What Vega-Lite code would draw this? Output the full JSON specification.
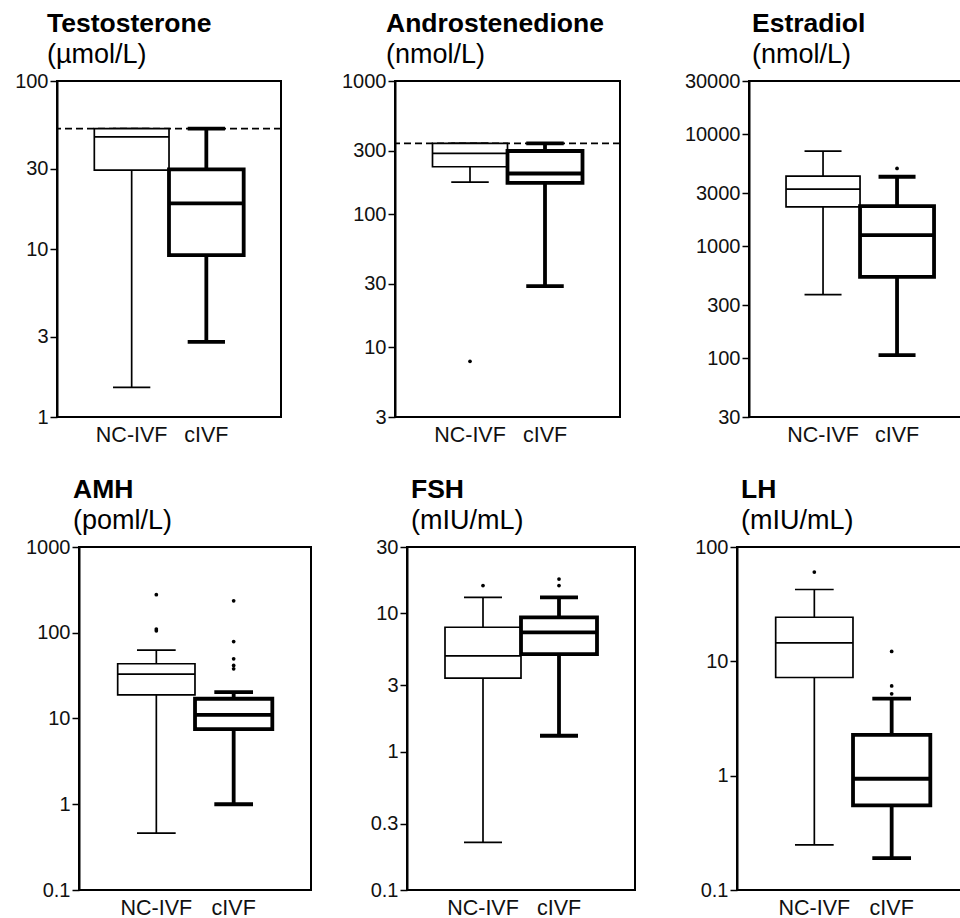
{
  "$schema": "https://vega.github.io/schema/vega-lite/v6.json",
  "padding": {"left": 0, "top": 9, "right": 0, "bottom": 0},
  "background": "white",
  "config": {
    "font": "Liberation Sans",
    "view": {"stroke": "black", "strokeWidth": 2},
    "axis": {"grid": false, "labelFont": "Liberation Sans", "labelColor": "#111", "domainColor": "black", "tickColor": "black", "labelOverlap": false},
    "axisY": {"labelFontSize": 20, "tickSize": 7, "tickWidth": 1.5, "domainWidth": 2, "labelPadding": 2},
    "axisX": {"labelFontSize": 21.5, "ticks": false, "domain": false, "labelAngle": 0, "labelPadding": 7},
    "title": {"anchor": "start", "frame": "group", "font": "Liberation Sans", "fontSize": 26.5, "fontWeight": "bold", "color": "black", "subtitleFont": "Liberation Sans", "subtitleFontSize": 27, "subtitleColor": "black", "subtitlePadding": 5, "offset": 3}
  },
  "datasets": {
    "box": [
      {"h": "Testosterone", "g": "NC-IVF", "lo": 1.5, "q1": 29.5, "med": 46.5, "q3": 52, "hi": 52},
      {"h": "Testosterone", "g": "cIVF", "lo": 2.8, "q1": 9.2, "med": 18.7, "q3": 29.8, "hi": 52},
      {"h": "Androstenedione", "g": "NC-IVF", "lo": 174, "q1": 227, "med": 286, "q3": 340, "hi": 340},
      {"h": "Androstenedione", "g": "cIVF", "lo": 28.8, "q1": 172, "med": 202, "q3": 298, "hi": 340},
      {"h": "Estradiol", "g": "NC-IVF", "lo": 372, "q1": 2260, "med": 3250, "q3": 4250, "hi": 7100},
      {"h": "Estradiol", "g": "cIVF", "lo": 107, "q1": 535, "med": 1260, "q3": 2290, "hi": 4190},
      {"h": "AMH", "g": "NC-IVF", "lo": 0.46, "q1": 18.9, "med": 32.9, "q3": 43.5, "hi": 62.8},
      {"h": "AMH", "g": "cIVF", "lo": 1.0, "q1": 7.5, "med": 11.0, "q3": 17.0, "hi": 20.3},
      {"h": "FSH", "g": "NC-IVF", "lo": 0.221, "q1": 3.39, "med": 4.9, "q3": 7.9, "hi": 13.0},
      {"h": "FSH", "g": "cIVF", "lo": 1.3, "q1": 5.06, "med": 7.25, "q3": 9.3, "hi": 13.0},
      {"h": "LH", "g": "NC-IVF", "lo": 0.248, "q1": 7.22, "med": 14.5, "q3": 24.3, "hi": 42.5},
      {"h": "LH", "g": "cIVF", "lo": 0.19, "q1": 0.55, "med": 0.94, "q3": 2.27, "hi": 4.72}
    ],
    "out": [
      {"h": "Androstenedione", "g": "NC-IVF", "v": 7.85, "k": 0},
      {"h": "Estradiol", "g": "cIVF", "v": 4970, "k": 0},
      {"h": "AMH", "g": "NC-IVF", "v": 278, "k": 0},
      {"h": "AMH", "g": "NC-IVF", "v": 105.5, "k": 0},
      {"h": "AMH", "g": "NC-IVF", "v": 110.4, "k": 1},
      {"h": "AMH", "g": "cIVF", "v": 236, "k": 0},
      {"h": "AMH", "g": "cIVF", "v": 79, "k": 0},
      {"h": "AMH", "g": "cIVF", "v": 49.7, "k": 0},
      {"h": "AMH", "g": "cIVF", "v": 38, "k": 0},
      {"h": "AMH", "g": "cIVF", "v": 41.6, "k": 1},
      {"h": "FSH", "g": "NC-IVF", "v": 15.8, "k": 0},
      {"h": "FSH", "g": "cIVF", "v": 15.8, "k": 0},
      {"h": "FSH", "g": "cIVF", "v": 17.6, "k": 1},
      {"h": "LH", "g": "NC-IVF", "v": 60.3, "k": 0},
      {"h": "LH", "g": "cIVF", "v": 12.2, "k": 0},
      {"h": "LH", "g": "cIVF", "v": 6.1, "k": 0},
      {"h": "LH", "g": "cIVF", "v": 5.2, "k": 0}
    ],
    "ref": [
      {"h": "Testosterone", "v": 52},
      {"h": "Androstenedione", "v": 340}
    ]
  },
  "spacing": 28,
  "center": true,
  "vconcat": [
    {
      "spacing": 40,
      "hconcat": [
        {
          "width": 224, "height": 336,
          "title": {"text": "Testosterone", "subtitle": "(µmol/L)", "dx": -10},
          "layer": [
            {"data": {"name": "ref"}, "transform": [{"filter": "datum.h === 'Testosterone'"}],
             "mark": {"type": "rule", "strokeDash": [7, 4], "strokeWidth": 1.8, "color": "black"},
             "encoding": {"y": {"field": "v", "type": "quantitative", "scale": {"type": "log", "domain": [1, 100], "nice": false}, "axis": {"title": null, "values": [1, 3, 10, 30, 100], "format": "~g", "minExtent": 56}}}},
            {"data": {"name": "box"}, "transform": [{"filter": "datum.h === 'Testosterone'"}],
             "mark": {"type": "rule", "color": "black"},
             "encoding": {"x": {"field": "g", "type": "nominal", "scale": {"domain": ["NC-IVF", "cIVF"], "paddingInner": 0, "paddingOuter": 0.5}, "axis": {"title": null}},
               "y": {"field": "lo", "type": "quantitative", "scale": {"type": "log", "domain": [1, 100], "nice": false}, "axis": {"title": null}}, "y2": {"field": "hi"},
               "strokeWidth": {"field": "g", "type": "nominal", "scale": {"domain": ["NC-IVF", "cIVF"], "range": [1.7, 3.8]}, "legend": null}}},
            {"data": {"name": "box"}, "transform": [{"filter": "datum.h === 'Testosterone'"}],
             "mark": {"type": "bar", "width": 37.3, "fill": "black", "stroke": "black"},
             "encoding": {"x": {"field": "g", "type": "nominal"}, "y": {"field": "lo", "type": "quantitative", "axis": {"title": null}}, "y2": {"field": "lo"}, "strokeWidth": {"field": "g", "type": "nominal", "legend": null}}},
            {"data": {"name": "box"}, "transform": [{"filter": "datum.h === 'Testosterone'"}],
             "mark": {"type": "bar", "width": 37.3, "fill": "black", "stroke": "black"},
             "encoding": {"x": {"field": "g", "type": "nominal"}, "y": {"field": "hi", "type": "quantitative", "axis": {"title": null}}, "y2": {"field": "hi"}, "strokeWidth": {"field": "g", "type": "nominal", "legend": null}}},
            {"data": {"name": "box"}, "transform": [{"filter": "datum.h === 'Testosterone'"}],
             "mark": {"type": "bar", "width": 74.7, "fill": "white", "stroke": "black"},
             "encoding": {"x": {"field": "g", "type": "nominal"}, "y": {"field": "q1", "type": "quantitative", "axis": {"title": null}}, "y2": {"field": "q3"}, "strokeWidth": {"field": "g", "type": "nominal", "legend": null}}},
            {"data": {"name": "box"}, "transform": [{"filter": "datum.h === 'Testosterone'"}],
             "mark": {"type": "bar", "width": 74.7, "fill": "black", "stroke": "black"},
             "encoding": {"x": {"field": "g", "type": "nominal"}, "y": {"field": "med", "type": "quantitative", "axis": {"title": null}}, "y2": {"field": "med"}, "strokeWidth": {"field": "g", "type": "nominal", "legend": null}}}
          ]
        },
        {
          "width": 225, "height": 336,
          "title": {"text": "Androstenedione", "subtitle": "(nmol/L)", "dx": -9},
          "layer": [
            {"data": {"name": "ref"}, "transform": [{"filter": "datum.h === 'Androstenedione'"}],
             "mark": {"type": "rule", "strokeDash": [7, 4], "strokeWidth": 1.8, "color": "black"},
             "encoding": {"y": {"field": "v", "type": "quantitative", "scale": {"type": "log", "domain": [3, 1000], "nice": false}, "axis": {"title": null, "values": [3, 10, 30, 100, 300, 1000], "format": "~g", "minExtent": 71}}}},
            {"data": {"name": "box"}, "transform": [{"filter": "datum.h === 'Androstenedione'"}],
             "mark": {"type": "rule", "color": "black"},
             "encoding": {"x": {"field": "g", "type": "nominal", "scale": {"domain": ["NC-IVF", "cIVF"], "paddingInner": 0, "paddingOuter": 0.5}, "axis": {"title": null}},
               "y": {"field": "lo", "type": "quantitative", "scale": {"type": "log", "domain": [3, 1000], "nice": false}, "axis": {"title": null}}, "y2": {"field": "hi"},
               "strokeWidth": {"field": "g", "type": "nominal", "scale": {"domain": ["NC-IVF", "cIVF"], "range": [1.7, 3.8]}, "legend": null}}},
            {"data": {"name": "box"}, "transform": [{"filter": "datum.h === 'Androstenedione'"}],
             "mark": {"type": "bar", "width": 37.5, "fill": "black", "stroke": "black"},
             "encoding": {"x": {"field": "g", "type": "nominal"}, "y": {"field": "lo", "type": "quantitative", "axis": {"title": null}}, "y2": {"field": "lo"}, "strokeWidth": {"field": "g", "type": "nominal", "legend": null}}},
            {"data": {"name": "box"}, "transform": [{"filter": "datum.h === 'Androstenedione'"}],
             "mark": {"type": "bar", "width": 37.5, "fill": "black", "stroke": "black"},
             "encoding": {"x": {"field": "g", "type": "nominal"}, "y": {"field": "hi", "type": "quantitative", "axis": {"title": null}}, "y2": {"field": "hi"}, "strokeWidth": {"field": "g", "type": "nominal", "legend": null}}},
            {"data": {"name": "box"}, "transform": [{"filter": "datum.h === 'Androstenedione'"}],
             "mark": {"type": "bar", "width": 75, "fill": "white", "stroke": "black"},
             "encoding": {"x": {"field": "g", "type": "nominal"}, "y": {"field": "q1", "type": "quantitative", "axis": {"title": null}}, "y2": {"field": "q3"}, "strokeWidth": {"field": "g", "type": "nominal", "legend": null}}},
            {"data": {"name": "box"}, "transform": [{"filter": "datum.h === 'Androstenedione'"}],
             "mark": {"type": "bar", "width": 75, "fill": "black", "stroke": "black"},
             "encoding": {"x": {"field": "g", "type": "nominal"}, "y": {"field": "med", "type": "quantitative", "axis": {"title": null}}, "y2": {"field": "med"}, "strokeWidth": {"field": "g", "type": "nominal", "legend": null}}},
            {"data": {"name": "out"}, "transform": [{"filter": "datum.h === 'Androstenedione'"}],
             "mark": {"type": "point", "filled": true, "color": "black", "opacity": 1, "size": 14},
             "encoding": {"x": {"field": "g", "type": "nominal"}, "y": {"field": "v", "type": "quantitative", "axis": {"title": null}}}}
          ]
        },
        {
          "width": 242, "height": 336,
          "title": {"text": "Estradiol", "subtitle": "(nmol/L)", "dx": 3},
          "layer": [
            {"data": {"name": "box"}, "transform": [{"filter": "datum.h === 'Estradiol'"}],
             "mark": {"type": "rule", "color": "black"},
             "encoding": {"x": {"field": "g", "type": "nominal", "scale": {"domain": ["NC-IVF", "cIVF"], "paddingInner": 0, "paddingOuter": 0.635, "align": 0.394}, "axis": {"title": null}},
               "y": {"field": "lo", "type": "quantitative", "scale": {"type": "log", "domain": [30, 30000], "nice": false}, "axis": {"title": null, "values": [30, 100, 300, 1000, 3000, 10000, 30000], "format": "~g", "minExtent": 86}}, "y2": {"field": "hi"},
               "strokeWidth": {"field": "g", "type": "nominal", "scale": {"domain": ["NC-IVF", "cIVF"], "range": [1.7, 3.8]}, "legend": null}}},
            {"data": {"name": "box"}, "transform": [{"filter": "datum.h === 'Estradiol'"}],
             "mark": {"type": "bar", "width": 37, "fill": "black", "stroke": "black"},
             "encoding": {"x": {"field": "g", "type": "nominal"}, "y": {"field": "lo", "type": "quantitative", "axis": {"title": null}}, "y2": {"field": "lo"}, "strokeWidth": {"field": "g", "type": "nominal", "legend": null}}},
            {"data": {"name": "box"}, "transform": [{"filter": "datum.h === 'Estradiol'"}],
             "mark": {"type": "bar", "width": 37, "fill": "black", "stroke": "black"},
             "encoding": {"x": {"field": "g", "type": "nominal"}, "y": {"field": "hi", "type": "quantitative", "axis": {"title": null}}, "y2": {"field": "hi"}, "strokeWidth": {"field": "g", "type": "nominal", "legend": null}}},
            {"data": {"name": "box"}, "transform": [{"filter": "datum.h === 'Estradiol'"}],
             "mark": {"type": "bar", "width": 74, "fill": "white", "stroke": "black"},
             "encoding": {"x": {"field": "g", "type": "nominal"}, "y": {"field": "q1", "type": "quantitative", "axis": {"title": null}}, "y2": {"field": "q3"}, "strokeWidth": {"field": "g", "type": "nominal", "legend": null}}},
            {"data": {"name": "box"}, "transform": [{"filter": "datum.h === 'Estradiol'"}],
             "mark": {"type": "bar", "width": 74, "fill": "black", "stroke": "black"},
             "encoding": {"x": {"field": "g", "type": "nominal"}, "y": {"field": "med", "type": "quantitative", "axis": {"title": null}}, "y2": {"field": "med"}, "strokeWidth": {"field": "g", "type": "nominal", "legend": null}}},
            {"data": {"name": "out"}, "transform": [{"filter": "datum.h === 'Estradiol'"}],
             "mark": {"type": "point", "filled": true, "color": "black", "opacity": 1, "size": 14},
             "encoding": {"x": {"field": "g", "type": "nominal"}, "y": {"field": "v", "type": "quantitative", "axis": {"title": null}}}}
          ]
        }
      ]
    },
    {
      "spacing": 40,
      "hconcat": [
        {
          "width": 232, "height": 343,
          "title": {"text": "AMH", "subtitle": "(poml/L)", "dx": -6},
          "layer": [
            {"data": {"name": "box"}, "transform": [{"filter": "datum.h === 'AMH'"}],
             "mark": {"type": "rule", "color": "black"},
             "encoding": {"x": {"field": "g", "type": "nominal", "scale": {"domain": ["NC-IVF", "cIVF"], "paddingInner": 0, "paddingOuter": 0.5}, "axis": {"title": null}},
               "y": {"field": "lo", "type": "quantitative", "scale": {"type": "log", "domain": [0.1, 1000], "nice": false}, "axis": {"title": null, "values": [0.1, 1, 10, 100, 1000], "format": "~g", "minExtent": 78}}, "y2": {"field": "hi"},
               "strokeWidth": {"field": "g", "type": "nominal", "scale": {"domain": ["NC-IVF", "cIVF"], "range": [1.7, 3.8]}, "legend": null}}},
            {"data": {"name": "box"}, "transform": [{"filter": "datum.h === 'AMH'"}],
             "mark": {"type": "bar", "width": 38.7, "fill": "black", "stroke": "black"},
             "encoding": {"x": {"field": "g", "type": "nominal"}, "y": {"field": "lo", "type": "quantitative", "axis": {"title": null}}, "y2": {"field": "lo"}, "strokeWidth": {"field": "g", "type": "nominal", "legend": null}}},
            {"data": {"name": "box"}, "transform": [{"filter": "datum.h === 'AMH'"}],
             "mark": {"type": "bar", "width": 38.7, "fill": "black", "stroke": "black"},
             "encoding": {"x": {"field": "g", "type": "nominal"}, "y": {"field": "hi", "type": "quantitative", "axis": {"title": null}}, "y2": {"field": "hi"}, "strokeWidth": {"field": "g", "type": "nominal", "legend": null}}},
            {"data": {"name": "box"}, "transform": [{"filter": "datum.h === 'AMH'"}],
             "mark": {"type": "bar", "width": 77.3, "fill": "white", "stroke": "black"},
             "encoding": {"x": {"field": "g", "type": "nominal"}, "y": {"field": "q1", "type": "quantitative", "axis": {"title": null}}, "y2": {"field": "q3"}, "strokeWidth": {"field": "g", "type": "nominal", "legend": null}}},
            {"data": {"name": "box"}, "transform": [{"filter": "datum.h === 'AMH'"}],
             "mark": {"type": "bar", "width": 77.3, "fill": "black", "stroke": "black"},
             "encoding": {"x": {"field": "g", "type": "nominal"}, "y": {"field": "med", "type": "quantitative", "axis": {"title": null}}, "y2": {"field": "med"}, "strokeWidth": {"field": "g", "type": "nominal", "legend": null}}},
            {"data": {"name": "out"}, "transform": [{"filter": "datum.h === 'AMH' && datum.k === 0"}],
             "mark": {"type": "point", "filled": true, "color": "black", "opacity": 1, "size": 14},
             "encoding": {"x": {"field": "g", "type": "nominal"}, "y": {"field": "v", "type": "quantitative", "axis": {"title": null}}}},
            {"data": {"name": "out"}, "transform": [{"filter": "datum.h === 'AMH' && datum.k === 1"}],
             "mark": {"type": "point", "filled": true, "color": "black", "opacity": 1, "size": 14, "dx": 6},
             "encoding": {"x": {"field": "g", "type": "nominal"}, "y": {"field": "v", "type": "quantitative", "axis": {"title": null}}}}
          ]
        },
        {
          "width": 228, "height": 343,
          "title": {"text": "FSH", "subtitle": "(mIU/mL)", "dx": 4},
          "layer": [
            {"data": {"name": "box"}, "transform": [{"filter": "datum.h === 'FSH'"}],
             "mark": {"type": "rule", "color": "black"},
             "encoding": {"x": {"field": "g", "type": "nominal", "scale": {"domain": ["NC-IVF", "cIVF"], "paddingInner": 0, "paddingOuter": 0.5}, "axis": {"title": null}},
               "y": {"field": "lo", "type": "quantitative", "scale": {"type": "log", "domain": [0.1, 30], "nice": false}, "axis": {"title": null, "values": [0.1, 0.3, 1, 3, 10, 30], "format": "~g", "minExtent": 54}}, "y2": {"field": "hi"},
               "strokeWidth": {"field": "g", "type": "nominal", "scale": {"domain": ["NC-IVF", "cIVF"], "range": [1.7, 3.8]}, "legend": null}}},
            {"data": {"name": "box"}, "transform": [{"filter": "datum.h === 'FSH'"}],
             "mark": {"type": "bar", "width": 38, "fill": "black", "stroke": "black"},
             "encoding": {"x": {"field": "g", "type": "nominal"}, "y": {"field": "lo", "type": "quantitative", "axis": {"title": null}}, "y2": {"field": "lo"}, "strokeWidth": {"field": "g", "type": "nominal", "legend": null}}},
            {"data": {"name": "box"}, "transform": [{"filter": "datum.h === 'FSH'"}],
             "mark": {"type": "bar", "width": 38, "fill": "black", "stroke": "black"},
             "encoding": {"x": {"field": "g", "type": "nominal"}, "y": {"field": "hi", "type": "quantitative", "axis": {"title": null}}, "y2": {"field": "hi"}, "strokeWidth": {"field": "g", "type": "nominal", "legend": null}}},
            {"data": {"name": "box"}, "transform": [{"filter": "datum.h === 'FSH'"}],
             "mark": {"type": "bar", "width": 76, "fill": "white", "stroke": "black"},
             "encoding": {"x": {"field": "g", "type": "nominal"}, "y": {"field": "q1", "type": "quantitative", "axis": {"title": null}}, "y2": {"field": "q3"}, "strokeWidth": {"field": "g", "type": "nominal", "legend": null}}},
            {"data": {"name": "box"}, "transform": [{"filter": "datum.h === 'FSH'"}],
             "mark": {"type": "bar", "width": 76, "fill": "black", "stroke": "black"},
             "encoding": {"x": {"field": "g", "type": "nominal"}, "y": {"field": "med", "type": "quantitative", "axis": {"title": null}}, "y2": {"field": "med"}, "strokeWidth": {"field": "g", "type": "nominal", "legend": null}}},
            {"data": {"name": "out"}, "transform": [{"filter": "datum.h === 'FSH' && datum.k === 0"}],
             "mark": {"type": "point", "filled": true, "color": "black", "opacity": 1, "size": 14},
             "encoding": {"x": {"field": "g", "type": "nominal"}, "y": {"field": "v", "type": "quantitative", "axis": {"title": null}}}},
            {"data": {"name": "out"}, "transform": [{"filter": "datum.h === 'FSH' && datum.k === 1"}],
             "mark": {"type": "point", "filled": true, "color": "black", "opacity": 1, "size": 14, "dx": 7},
             "encoding": {"x": {"field": "g", "type": "nominal"}, "y": {"field": "v", "type": "quantitative", "axis": {"title": null}}}}
          ]
        },
        {
          "width": 232, "height": 343,
          "title": {"text": "LH", "subtitle": "(mIU/mL)", "dx": 4},
          "layer": [
            {"data": {"name": "box"}, "transform": [{"filter": "datum.h === 'LH'"}],
             "mark": {"type": "rule", "color": "black"},
             "encoding": {"x": {"field": "g", "type": "nominal", "scale": {"domain": ["NC-IVF", "cIVF"], "paddingInner": 0, "paddingOuter": 0.5}, "axis": {"title": null}},
               "y": {"field": "lo", "type": "quantitative", "scale": {"type": "log", "domain": [0.1, 100], "nice": false}, "axis": {"title": null, "values": [0.1, 1, 10, 100], "format": "~g", "minExtent": 60}}, "y2": {"field": "hi"},
               "strokeWidth": {"field": "g", "type": "nominal", "scale": {"domain": ["NC-IVF", "cIVF"], "range": [1.7, 3.8]}, "legend": null}}},
            {"data": {"name": "box"}, "transform": [{"filter": "datum.h === 'LH'"}],
             "mark": {"type": "bar", "width": 38.7, "fill": "black", "stroke": "black"},
             "encoding": {"x": {"field": "g", "type": "nominal"}, "y": {"field": "lo", "type": "quantitative", "axis": {"title": null}}, "y2": {"field": "lo"}, "strokeWidth": {"field": "g", "type": "nominal", "legend": null}}},
            {"data": {"name": "box"}, "transform": [{"filter": "datum.h === 'LH'"}],
             "mark": {"type": "bar", "width": 38.7, "fill": "black", "stroke": "black"},
             "encoding": {"x": {"field": "g", "type": "nominal"}, "y": {"field": "hi", "type": "quantitative", "axis": {"title": null}}, "y2": {"field": "hi"}, "strokeWidth": {"field": "g", "type": "nominal", "legend": null}}},
            {"data": {"name": "box"}, "transform": [{"filter": "datum.h === 'LH'"}],
             "mark": {"type": "bar", "width": 77.3, "fill": "white", "stroke": "black"},
             "encoding": {"x": {"field": "g", "type": "nominal"}, "y": {"field": "q1", "type": "quantitative", "axis": {"title": null}}, "y2": {"field": "q3"}, "strokeWidth": {"field": "g", "type": "nominal", "legend": null}}},
            {"data": {"name": "box"}, "transform": [{"filter": "datum.h === 'LH'"}],
             "mark": {"type": "bar", "width": 77.3, "fill": "black", "stroke": "black"},
             "encoding": {"x": {"field": "g", "type": "nominal"}, "y": {"field": "med", "type": "quantitative", "axis": {"title": null}}, "y2": {"field": "med"}, "strokeWidth": {"field": "g", "type": "nominal", "legend": null}}},
            {"data": {"name": "out"}, "transform": [{"filter": "datum.h === 'LH'"}],
             "mark": {"type": "point", "filled": true, "color": "black", "opacity": 1, "size": 14},
             "encoding": {"x": {"field": "g", "type": "nominal"}, "y": {"field": "v", "type": "quantitative", "axis": {"title": null}}}}
          ]
        }
      ]
    }
  ]
}
